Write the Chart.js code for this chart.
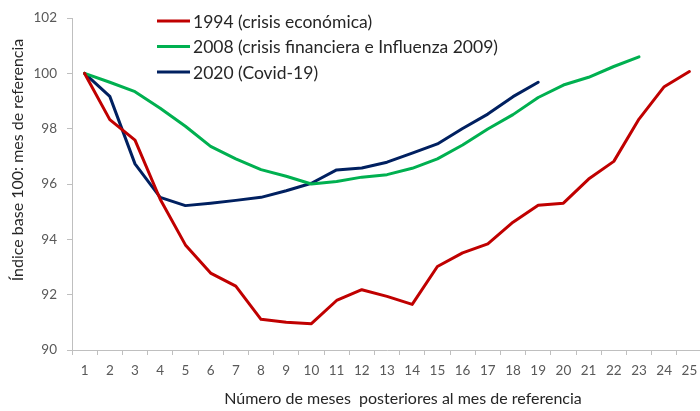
<!DOCTYPE html>
<html>
<head>
<meta charset="utf-8">
<script src="https://cdn.jsdelivr.net/npm/chart.js@4/dist/chart.umd.min.js"></script>
<style>
  html, body { margin: 0; padding: 0; background: #fff; overflow: hidden; }
  #wrap { position: absolute; left: 0; top: 0; width: 706px; height: 411px; }
</style>
</head>
<body>
<div id="wrap"><canvas id="chart" width="706" height="411"></canvas></div>
<script>
// months after the reference month
const months = ['1','2','3','4','5','6','7','8','9','10','11','12','13','14','15','16','17','18','19','20','21','22','23','24','25'];

const crisis1994 = [100, 98.33, 97.59, 95.45, 93.8, 92.78, 92.31, 91.11, 91.0, 90.95, 91.79, 92.18, 91.94, 91.65, 93.02, 93.51, 93.84, 94.62, 95.23, 95.31, 96.18, 96.82, 98.35, 99.52, 100.07];
const crisis2008 = [100, 99.68, 99.34, 98.74, 98.09, 97.36, 96.91, 96.52, 96.28, 96.0, 96.09, 96.25, 96.34, 96.57, 96.91, 97.41, 97.99, 98.51, 99.13, 99.58, 99.86, 100.25, 100.6];
const covid2020 = [100, 99.17, 96.73, 95.52, 95.22, 95.31, 95.41, 95.52, 95.76, 96.03, 96.51, 96.58, 96.79, 97.12, 97.45, 98.01, 98.53, 99.16, 99.68];

const seriesNames = ['1994 (crisis económica)', '2008 (crisis financiera e Influenza 2009)', '2020 (Covid-19)'];
const yTitle = 'Índice base 100: mes de referencia';
const xTitle = 'Número de meses  posteriores al mes de referencia';

const FONT = 'Lato, "Open Sans", sans-serif';

// legend drawn inside the plot, top-left, like the original
const insideLegend = {
  id: 'insideLegend',
  afterDatasetsDraw(chart) {
    const ctx = chart.ctx;
    ctx.save();
    ctx.font = '17.5px ' + FONT;
    ctx.textBaseline = 'middle';
    chart.data.datasets.forEach((ds, i) => {
      const y = 21 + i * 25.5;
      ctx.strokeStyle = ds.borderColor;
      ctx.lineWidth = 3;
      ctx.beginPath();
      ctx.moveTo(157, y);
      ctx.lineTo(190, y);
      ctx.stroke();
      ctx.fillStyle = '#262626';
      ctx.fillText(ds.label, 193, y + 1);
    });
    ctx.restore();
  }
};

// axis titles, placed where Excel put them
const axisTitles = {
  id: 'axisTitles',
  afterDraw(chart) {
    const ctx = chart.ctx;
    ctx.save();
    ctx.font = '16px ' + FONT;
    ctx.fillStyle = '#262626';
    ctx.textAlign = 'center';
    ctx.textBaseline = 'middle';
    ctx.fillText(xTitle, 403, 399);
    ctx.translate(18, 160);
    ctx.rotate(-Math.PI / 2);
    ctx.fillText(yTitle, 0, 0);
    ctx.restore();
  }
};

const line = (label, data, color) => ({
  label: label,
  data: data,
  borderColor: color,
  backgroundColor: color,
  borderWidth: 3,
  pointRadius: 0,
  tension: 0,
  borderJoinStyle: 'round',
  borderCapStyle: 'round',
  fill: false
});

new Chart(document.getElementById('chart'), {
  type: 'line',
  data: {
    labels: months,
    datasets: [
      line(seriesNames[0], crisis1994, '#C00000'),
      line(seriesNames[1], crisis2008, '#00B050'),
      line(seriesNames[2], covid2020, '#002060')
    ]
  },
  options: {
    responsive: false,
    animation: false,
    layout: { padding: { top: 16, right: 4, left: 0, bottom: 0 } },
    plugins: {
      legend: { display: false },
      tooltip: { enabled: false }
    },
    scales: {
      x: {
        offset: true,
        grid: { display: true, drawOnChartArea: false, offset: true, tickLength: 5, color: '#bfbfbf' },
        border: { color: '#bfbfbf' },
        ticks: { color: '#595959', font: { family: FONT, size: 13.5 }, padding: 8, maxRotation: 0, autoSkip: false },
        afterFit(scale) { scale.height = 61; }
      },
      y: {
        min: 90,
        max: 102,
        grid: { display: true, drawOnChartArea: false, tickLength: 5, color: '#bfbfbf' },
        border: { color: '#bfbfbf' },
        ticks: { stepSize: 2, color: '#595959', font: { family: FONT, size: 13.5 }, padding: 10 },
        afterFit(scale) { scale.width = 72; }
      }
    }
  },
  plugins: [insideLegend, axisTitles]
});
</script>
</body>
</html>
